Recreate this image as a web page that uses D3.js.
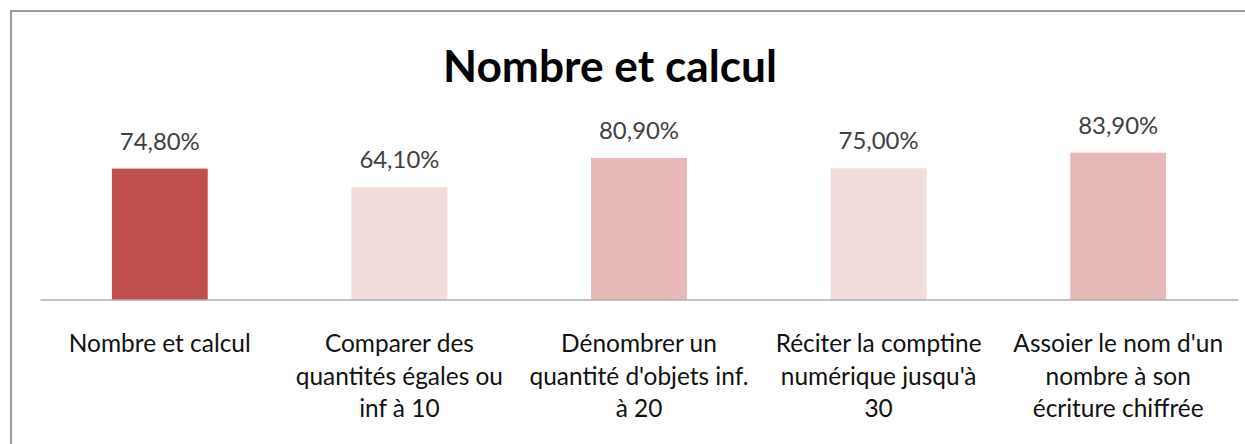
<!DOCTYPE html>
<html>
<head>
<meta charset="utf-8">
<script src="https://cdn.jsdelivr.net/npm/d3@7"></script>
<style>
  html, body { margin: 0; padding: 0; background: #fff; }
  svg { display: block; }
</style>
</head>
<body>
<svg id="chart" width="1245" height="444"></svg>
<script>
// data
const chartTitle = "Nombre et calcul";
const categories = [
  "Nombre et calcul",
  "Comparer des quantités égales ou inf à 10",
  "Dénombrer un quantité d'objets inf. à 20",
  "Réciter la comptine numérique jusqu'à 30",
  "Assoier le nom d'un nombre à son écriture chiffrée"
];
const categoryLines = [
  ["Nombre et calcul"],
  ["Comparer des", "quantités égales ou", "inf à 10"],
  ["Dénombrer un", "quantité d'objets inf.", "à 20"],
  ["Réciter la comptine", "numérique jusqu'à", "30"],
  ["Assoier le nom d'un", "nombre à son", "écriture chiffrée"]
];
const values = [74.8, 64.1, 80.9, 75.0, 83.9];
const barColors = ["#c0504d", "#f2dcdb", "#e6b9b8", "#f2dcdb", "#e6b9b8"];

const width = 1245, height = 444;
const margin = { left: 40, right: 7, baseline: 299.5, top: 124.5 };
const font = "Lato, 'Open Sans', sans-serif";

const svg = d3.select("#chart");

// outer frame (runs off the right and bottom of the picture)
svg.append("rect")
  .attr("x", 11).attr("y", 11)
  .attr("width", width).attr("height", height)
  .attr("fill", "none")
  .attr("stroke", "#9a9a9a")
  .attr("stroke-width", 2);

const x = d3.scaleBand()
  .domain(categories)
  .range([margin.left, width - margin.right])
  .paddingInner(0.6)
  .paddingOuter(0.3);

const y = d3.scaleLinear()
  .domain([0, 100])
  .range([margin.baseline, margin.top]);

// fit a font size so that a text reaches a given width
function fitSize(sel, target) {
  const w = sel.node().getComputedTextLength();
  const fs = parseFloat(sel.attr("font-size"));
  return fs * target / w;
}

// title
const title = svg.append("text")
  .attr("x", 610)
  .attr("y", 82)
  .attr("text-anchor", "middle")
  .attr("font-family", font)
  .attr("font-weight", "bold")
  .attr("font-size", 40)
  .attr("fill", "#000")
  .text(chartTitle);
title.attr("font-size", fitSize(title, 334));

// bars
svg.append("g").selectAll("rect")
  .data(values)
  .join("rect")
  .attr("x", (d, i) => x(categories[i]))
  .attr("y", d => y(d))
  .attr("width", x.bandwidth())
  .attr("height", d => y(0) - y(d))
  .attr("fill", (d, i) => barColors[i]);

// category axis (baseline only, no ticks)
const xAxis = d3.axisBottom(x).tickSize(0).tickFormat("");
const axisG = svg.append("g")
  .attr("transform", `translate(0, ${y(0)})`)
  .call(xAxis);
axisG.select(".domain").attr("stroke", "#868686").attr("stroke-width", 1.2);

// value labels
const fmt = d => d3.format(".2f")(d).replace(".", ",") + "%";
const probe = svg.append("text")
  .attr("font-family", font).attr("font-size", 24).text(fmt(values[0]));
const valSize = fitSize(probe, 80);
probe.remove();

svg.append("g").selectAll("text")
  .data(values)
  .join("text")
  .attr("x", (d, i) => x(categories[i]) + x.bandwidth() / 2)
  .attr("y", d => y(d) - 19)
  .attr("text-anchor", "middle")
  .attr("font-family", font)
  .attr("font-size", valSize)
  .attr("fill", "#404040")
  .text(fmt);

// category labels, wrapped as in the picture
const probe2 = svg.append("text")
  .attr("font-family", font).attr("font-size", 24).text(categoryLines[0][0]);
const catSize = fitSize(probe2, 182);
probe2.remove();

const catG = svg.append("g").selectAll("text")
  .data(categoryLines)
  .join("text")
  .attr("text-anchor", "middle")
  .attr("font-family", font)
  .attr("font-size", catSize)
  .attr("fill", "#111");

catG.selectAll("tspan")
  .data((lines, i) => lines.map(l => ({ l, i })))
  .join("tspan")
  .attr("x", d => x(categories[d.i]) + x.bandwidth() / 2)
  .attr("y", (d, j) => 352 + j * 32.5)
  .text(d => d.l);
</script>
</body>
</html>
